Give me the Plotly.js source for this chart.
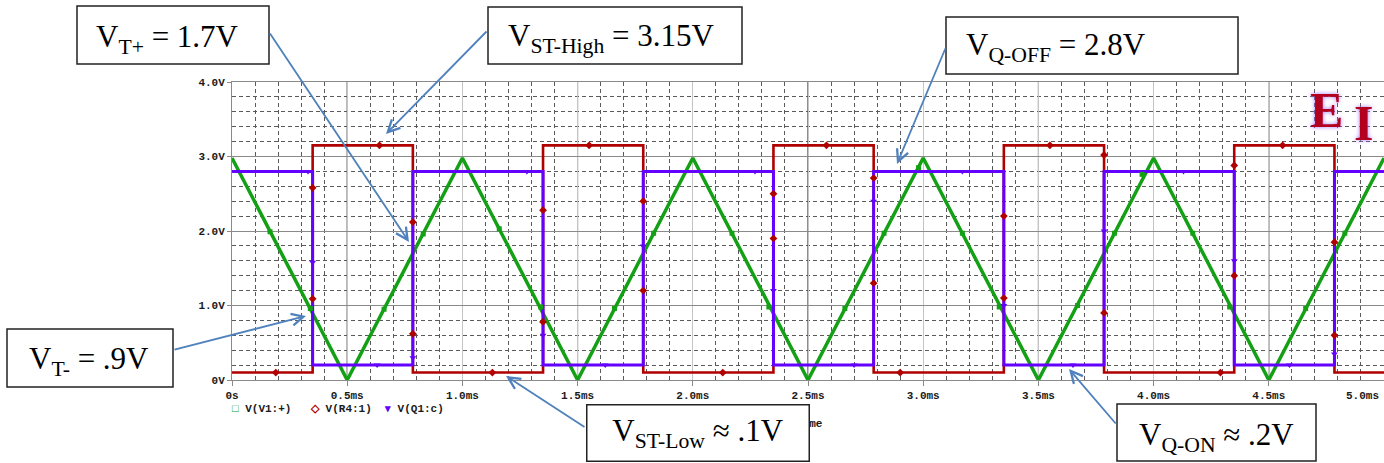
<!DOCTYPE html>
<html>
<head>
<meta charset="utf-8">
<script src="https://cdn.plot.ly/plotly-3.0.1.min.js"></script>
<style>
  html, body { margin: 0; padding: 0; background: #ffffff; }
  #chart { width: 1384px; height: 463px; }
</style>
</head>
<body>
<div id="chart"></div>
<script>
// ---- axis ticks ----
const timeTicks    = [0, 0.5, 1.0, 1.5, 2.0, 2.5, 3.0, 3.5, 4.0, 4.5, 5.0];
// the label of the last tick sits at the page edge and is placed separately, pulled inward
const timeTickText = ['0s', '0.5ms', '1.0ms', '1.5ms', '2.0ms', '2.5ms', '3.0ms', '3.5ms', '4.0ms', '4.5ms', ''];
const lastTimeLabel = '5.0ms';
const halfMsLines  = [0.5, 1.5, 2.5, 3.5, 4.5];
const voltTicks    = [0, 1, 2, 3, 4];
const voltTickText = ['0V', '1.0V', '2.0V', '3.0V', '4.0V'];

// ---- V(V1:+) : triangle input (time in ms, volts) ----
const triTime = [0, 0.5, 1.0, 1.5, 2.0, 2.5, 3.0, 3.5, 4.0, 4.5, 5.0];
const triVolt = [2.98, 0, 2.98, 0, 2.98, 0, 2.98, 0, 2.98, 0, 2.98];

// ---- switching instants shared by the Schmitt output and the transistor collector ----
const switchTime = [0, 0.35, 0.785, 1.35, 1.785, 2.35, 2.785, 3.35, 3.785, 4.35, 4.785, 5.0];
// V(R4:1) : Schmitt trigger output levels
const stVolt = [0.1, 3.15, 0.1, 3.15, 0.1, 3.15, 0.1, 3.15, 0.1, 3.15, 0.1, 0.1];
// V(Q1:c) : collector levels
const qVolt  = [2.8, 0.2, 2.8, 0.2, 2.8, 0.2, 2.8, 0.2, 2.8, 0.2, 2.8, 2.8];

// ---- simulator trace markers ----
const triMarkTime = [0.165, 0.34, 0.66, 0.83, 1.16, 1.34, 1.66, 1.83, 2.17, 2.33, 2.66, 2.83, 2.98, 3.17, 3.33, 3.67, 3.83, 3.95, 4.17, 4.33, 4.66, 4.83];
const triMarkVolt = [1.99, 0.96, 0.95, 1.96, 2.03, 0.98, 0.96, 1.97, 1.97, 0.98, 0.96, 1.97, 2.85, 1.97, 0.98, 1.0, 1.97, 2.76, 1.97, 0.98, 0.96, 1.97];

const stMarkTime = [0.19, 0.35, 0.35, 0.64, 0.785, 0.785, 1.13, 1.35, 1.35, 1.55, 1.785, 1.785, 2.13, 2.35, 2.35, 2.58, 2.785, 2.785, 2.90, 3.35, 3.35, 3.55, 3.785, 3.785, 4.29, 4.35, 4.35, 4.56, 4.785, 4.785];
const stMarkVolt = [0.1, 1.09, 2.58, 3.15, 2.12, 0.62, 0.1, 0.78, 2.28, 3.15, 2.4, 1.2, 0.1, 1.9, 2.5, 3.15, 2.71, 1.3, 0.1, 2.2, 1.1, 3.15, 3.02, 0.9, 0.1, 2.88, 1.4, 3.15, 1.85, 0.6];

const qMarkTime = [0.33, 0.35, 0.63, 0.785, 1.28, 1.35, 1.62, 1.785, 2.27, 2.35, 2.70, 2.785, 3.17, 3.35, 3.65, 3.785, 4.13, 4.35, 4.59, 4.785];
const qMarkVolt = [2.8, 1.58, 0.2, 0.3, 2.8, 0.6, 0.2, 1.8, 2.8, 1.2, 0.2, 2.4, 2.8, 1.0, 0.2, 2.0, 2.8, 1.6, 0.2, 0.35];

// ---- colours ----
const GREEN  = '#14a014';
const RED    = '#b00000';
const PURPLE = '#6400ff';
const ARROW  = '#4f81bd';

// ---- plot frame in pixels (used to place callouts) ----
const FRAME = { left: 232, top: 82, width: 1152, height: 298 };
const px = x => (x - FRAME.left) / FRAME.width;
const py = y => (FRAME.top + FRAME.height - y) / FRAME.height;

const traces = [
  { x: triTime, y: triVolt, mode: 'lines', line: { color: GREEN, width: 3.5 }, hoverinfo: 'skip' },
  { x: switchTime, y: stVolt, mode: 'lines', line: { color: RED, width: 2.6, shape: 'hv' }, hoverinfo: 'skip' },
  { x: switchTime, y: qVolt, mode: 'lines', line: { color: PURPLE, width: 3, shape: 'hv' }, hoverinfo: 'skip' },
  { x: triMarkTime, y: triMarkVolt, mode: 'markers', marker: { symbol: 'square', size: 5, color: GREEN }, hoverinfo: 'skip' },
  { x: stMarkTime, y: stMarkVolt, mode: 'markers', marker: { symbol: 'diamond', size: 6, color: RED }, hoverinfo: 'skip' },
  { x: qMarkTime, y: qMarkVolt, mode: 'markers', marker: { symbol: 'triangle-down', size: 6, color: PURPLE }, hoverinfo: 'skip' }
];

const tickFont = { family: 'Liberation Mono', size: 11, color: '#1a1a1a', weight: 'bold' };
const calloutFont = { family: 'Liberation Serif', size: 31, color: '#000000' };
const logoFont = { family: 'Liberation Serif', size: 50, color: '#b3001e', weight: 'bold', shadow: '0px 0px 4px #a070ff' };

// callout boxes: [left, top, right, bottom] in pixels
const boxes = [
  [77, 6, 269, 64],
  [488, 7, 742, 64],
  [946, 17, 1238, 74],
  [7, 329, 173, 387],
  [1117, 404, 1316, 461]
];

const shapes = [];
halfMsLines.forEach(t => shapes.push({
  type: 'line', xref: 'x', yref: 'paper', x0: t, x1: t, y0: 0, y1: 1,
  line: { color: '#1a1a1a', width: 1 }, layer: 'between'
}));
boxes.forEach(b => shapes.push({
  type: 'rect', xref: 'paper', yref: 'paper',
  x0: px(b[0]), x1: px(b[2]), y0: py(b[3]), y1: py(b[1]),
  line: { color: '#222222', width: 1.5 }, fillcolor: '#ffffff', layer: 'above'
}));

function label(text, x, y) {
  return { text: text, xref: 'paper', yref: 'paper', x: px(x), y: py(y),
           xanchor: 'left', yanchor: 'middle', showarrow: false, borderpad: 0, font: calloutFont };
}
function arrow(tipX, tipY, tailX, tailY) {
  return { text: '', xref: 'paper', yref: 'paper', x: px(tipX), y: py(tipY),
           ax: tailX - tipX, ay: tailY - tipY, showarrow: true,
           arrowhead: 5, arrowsize: 1.3, arrowwidth: 1.8, arrowcolor: ARROW, standoff: 0, startstandoff: 0 };
}
function small(text, x, y, anchor) {
  return { text: text, xref: 'paper', yref: 'paper', x: px(x), y: py(y),
           xanchor: anchor || 'left', yanchor: 'middle', showarrow: false, borderpad: 0, font: tickFont };
}

const annotations = [
  arrow(409, 242, 269, 32),
  arrow(386, 134, 488, 30),
  arrow(897, 164, 946, 47),
  arrow(306, 316, 173, 350),
  arrow(506, 376, 586, 428),
  arrow(1069, 369, 1117, 425),

  label('V<sub>T+</sub> = 1.7V', 95, 39),
  label('V<sub>ST-High</sub> = 3.15V', 507, 38),
  label('V<sub>Q-OFF</sub> = 2.8V', 965, 47),
  label('V<sub>T-</sub> = .9V', 28, 361),
  label('V<sub>Q-ON</sub> ≈ .2V', 1138, 437),

  // last time-axis label, kept inside the page
  small(lastTimeLabel, 1380, 396, 'right'),

  // legend
  small('<span style="color:' + GREEN + '">□</span> V(V1:+)', 231, 409),
  small('<span style="color:' + RED + '">◇</span> V(R4:1)', 309, 409),
  small('<span style="color:' + PURPLE + '">▾</span> V(Q1:c)', 383, 409),
  // time axis caption
  small('Time', 809, 424, 'center'),

  // boxed callout sitting over the caption
  { text: 'V<sub>ST-Low</sub> ≈ .1V', xref: 'paper', yref: 'paper', x: px(698), y: py(433),
    xanchor: 'center', yanchor: 'middle', showarrow: false, width: 221, height: 55,
    align: 'center', valign: 'middle', bgcolor: '#ffffff', bordercolor: '#222222',
    borderwidth: 1.5, borderpad: 0, font: calloutFont },

  // logo
  { text: 'E', xref: 'paper', yref: 'paper', x: px(1326), y: py(110), xanchor: 'center', yanchor: 'middle',
    showarrow: false, font: logoFont },
  { text: 'I', xref: 'paper', yref: 'paper', x: px(1363), y: py(123), xanchor: 'center', yanchor: 'middle',
    showarrow: false, font: logoFont }
];

const layout = {
  width: 1384, height: 463,
  margin: { l: FRAME.left, r: 1384 - FRAME.left - FRAME.width, t: FRAME.top, b: 463 - FRAME.top - FRAME.height, pad: 0 },
  paper_bgcolor: '#ffffff', plot_bgcolor: '#ffffff',
  showlegend: false,
  xaxis: {
    range: [0, 5], tickmode: 'array', tickvals: timeTicks, ticktext: timeTickText,
    showgrid: true, gridcolor: '#c4c4c4', gridwidth: 1,
    minor: { tickmode: 'linear', tick0: 0, dtick: 0.1, showgrid: true, gridcolor: '#5a5a5a', griddash: '4px,3px', gridwidth: 1 },
    showline: true, linecolor: '#8a8a8a', linewidth: 1, mirror: true,
    ticks: 'outside', ticklen: 5, tickcolor: '#8a8a8a',
    zeroline: false, tickfont: tickFont, fixedrange: true
  },
  yaxis: {
    range: [0, 4], tickmode: 'array', tickvals: voltTicks, ticktext: voltTickText,
    showgrid: true, gridcolor: '#8a8a8a', gridwidth: 1,
    minor: { tickmode: 'linear', tick0: 0, dtick: 0.2, showgrid: true, gridcolor: '#5a5a5a', griddash: '4px,3px', gridwidth: 1 },
    showline: true, linecolor: '#8a8a8a', linewidth: 1,
    ticks: 'outside', ticklen: 4, tickcolor: '#8a8a8a',
    zeroline: false, tickfont: tickFont, fixedrange: true
  },
  shapes: shapes,
  annotations: annotations
};

Plotly.newPlot('chart', traces, layout, { staticPlot: true, displayModeBar: false });
</script>
</body>
</html>
